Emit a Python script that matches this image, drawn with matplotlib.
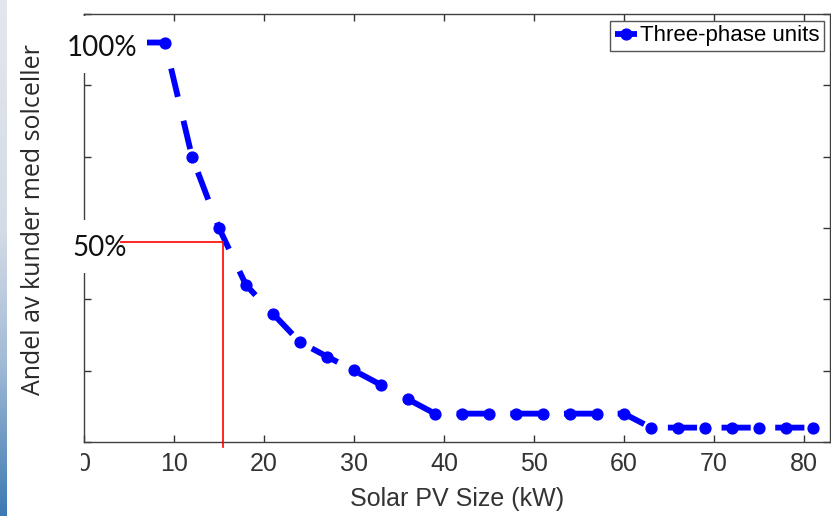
import numpy as np
import matplotlib
matplotlib.use("Agg")
import matplotlib.pyplot as plt
from matplotlib.patches import Rectangle
from matplotlib.colors import LinearSegmentedColormap

# Share of three-phase customers whose PV system is at least a given size
pv_size_kw = [6, 9, 12, 15, 18, 21, 24, 27, 30, 33, 36, 39, 42, 45, 48, 51,
              54, 57, 60, 63, 66, 69, 72, 75, 78, 81]
share_pct = [100, 100, 71.4, 53.6, 39.3, 32.1, 25.0, 21.4, 17.9, 14.3, 10.7,
             7.1, 7.1, 7.1, 7.1, 7.1, 7.1, 7.1, 7.1,
             3.6, 3.6, 3.6, 3.6, 3.6, 3.6, 3.6]
series_label = "Three-phase units"
x_ticks = [0, 10, 20, 30, 40, 50, 60, 70, 80]
half_share = 50
half_share_kw = 15.4

W, H = 831, 516
fig = plt.figure(figsize=(W / 100, H / 100), dpi=100)
fig.patch.set_facecolor("white")

def fx(px):
    return px / W

def fy(py):
    return 1 - py / H

ax = fig.add_axes([fx(84), fy(442), fx(830) - fx(84), fy(14) - fy(442)])

ax.plot(pv_size_kw, share_pct, color="#0000ff", lw=4.2, ls="--",
        dashes=(5.0, 4.2), dash_capstyle="butt", marker="o", ms=7.8,
        mfc="#0000ff", mec="#0000ff", label=series_label, zorder=3)

# guide lines at the 50 % level
ax.plot([0, half_share_kw], [half_share, half_share], color="#ff0000", lw=1.2,
        clip_on=False, zorder=4)
ax.plot([half_share_kw, half_share_kw], [-1.3, half_share], color="#ff0000",
        lw=1.2, clip_on=False, zorder=4)

ax.set_xlim(0, 82.9)
ax.set_ylim(0, 107.14)
ax.set_xticks(x_ticks)
ax.set_xticklabels([str(t) for t in x_ticks], family="Liberation Sans",
                   fontsize=18, color="#333333")
ax.set_yticks(np.arange(7) * 107.14 / 6)
ax.set_yticklabels([])
ax.tick_params(direction="in", length=5, width=1, color="#333333",
               top=True, right=True, pad=7)
for s in ax.spines.values():
    s.set_color("#404040")
    s.set_linewidth(1.0)

ax.set_xlabel("Solar PV Size (kW)", family="Liberation Sans", fontsize=18,
              color="#333333", labelpad=8)

leg = ax.legend(loc="upper right", bbox_to_anchor=(1 - 6 / 746, 1 - 7 / 428),
                borderaxespad=0, fancybox=False, framealpha=1,
                edgecolor="#555555", handlelength=1.0, handletextpad=0.15,
                borderpad=0.2, prop={"family": "Liberation Sans", "size": 16})
leg.get_frame().set_linewidth(1.0)

# white backing boxes for the labels placed over the axes
for x0, y0, x1, y1 in [(7, 0, 81, 516), (60, 16, 147, 73), (60, 220, 120, 273)]:
    fig.add_artist(Rectangle((fx(x0), fy(y1)), fx(x1) - fx(x0), fy(y0) - fy(y1),
                             transform=fig.transFigure, facecolor="white",
                             edgecolor="none", zorder=2))

fig.text(fx(67), fy(48), "100%", family="Lato", fontsize=20, color="#111111",
         ha="left", va="center", zorder=5)
fig.text(fx(72), fy(248), "50%", family="Lato", fontsize=20, color="#111111",
         ha="left", va="center", zorder=5)
fig.text(fx(34), fy(220), "Andel av kunder med solceller", family="Open Sans",
         fontsize=18, color="#2a2a2a", rotation=90, ha="center", va="center",
         zorder=5)

# slide edge gradient on the left
strip = fig.add_axes([0, 0, fx(7), 1], zorder=6)
cmap = LinearSegmentedColormap.from_list(
    "edge", [(0.0, "#e4e7ed"), (0.45, "#d3dbe6"), (0.7, "#a3bbd6"),
             (1.0, "#3c7ab3")])
strip.imshow(np.linspace(0, 1, 256)[:, None], aspect="auto", cmap=cmap,
             extent=(0, 1, 1, 0))
strip.set_axis_off()

fig.savefig("out.png", dpi=100)
